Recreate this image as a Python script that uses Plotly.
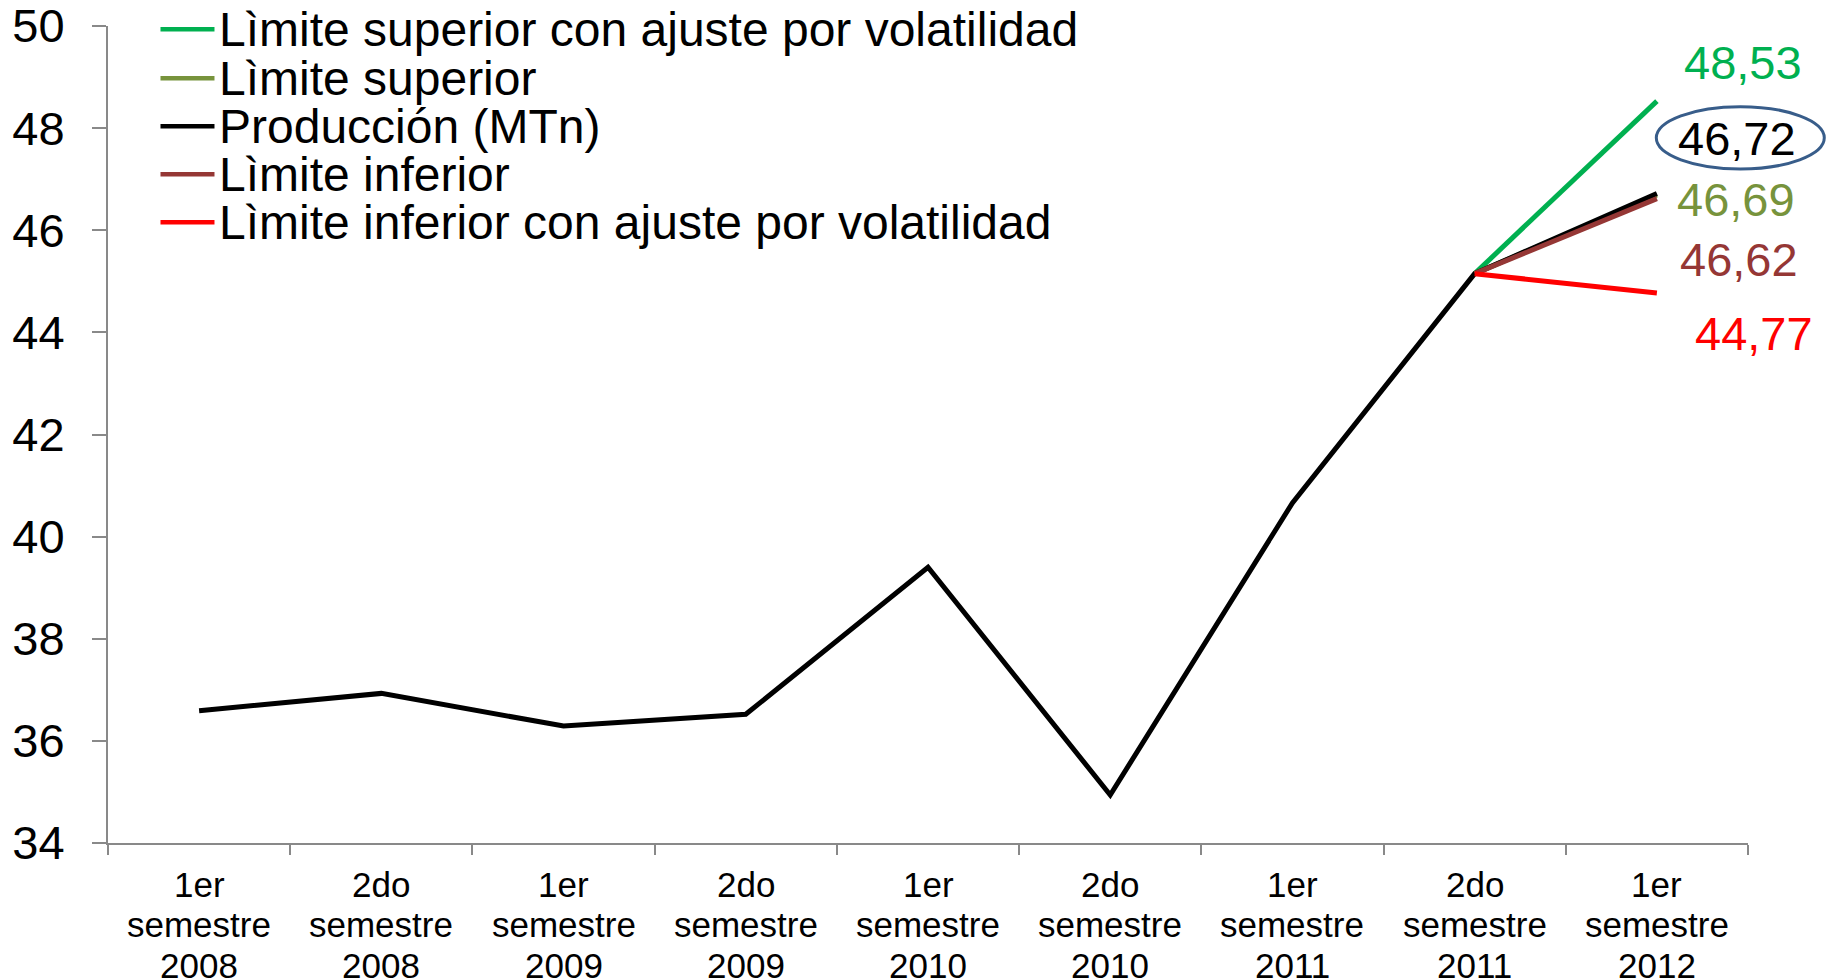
import plotly.graph_objects as go

categories = ["1er<br>semestre<br>2008", "2do<br>semestre<br>2008", "1er<br>semestre<br>2009",
              "2do<br>semestre<br>2009", "1er<br>semestre<br>2010", "2do<br>semestre<br>2010",
              "1er<br>semestre<br>2011", "2do<br>semestre<br>2011", "1er<br>semestre<br>2012"]
produccion = [36.59, 36.93, 36.29, 36.52, 39.40, 34.94, 40.66, 45.15, 46.72]
lim_sup_vol = [None] * 7 + [45.15, 48.53]
lim_sup = [None] * 7 + [45.15, 46.69]
lim_inf = [None] * 7 + [45.15, 46.62]
lim_inf_vol = [None] * 7 + [45.15, 44.77]

series_names = ["Lìmite superior con ajuste por volatilidad", "Lìmite superior",
                "Producción (MTn)", "Lìmite inferior", "Lìmite inferior con ajuste por volatilidad"]
series_values = [lim_sup_vol, lim_sup, produccion, lim_inf, lim_inf_vol]
series_colors = ["#00B050", "#77933C", "#000000", "#953735", "#FF0000"]

FONT = "Arial, 'Liberation Sans', sans-serif"

W, H = 1833, 979
ml, mr, mt, mb = 107.5, 85.3, 25.7, 136
pw, ph = W - ml - mr, H - mt - mb
def px(x):
    return (x - ml) / pw
def py(y):
    return 1 - (y - mt) / ph

fig = go.Figure()
for i in range(5):
    fig.add_trace(go.Scatter(x=categories, y=series_values[i], mode="lines", name=series_names[i],
                             line=dict(color=series_colors[i], width=5), connectgaps=False,
                             showlegend=False))

# value labels at last point
label_shift = {0: (86, 39), 2: (80, 55), 1: (79, -4), 3: (82, -61), 4: (97, -40)}
for i, (xs, ys) in label_shift.items():
    v = series_values[i][-1]
    fig.add_annotation(x=categories[-1], y=v, xref="x", yref="y", text=f"{v:.2f}".replace(".", ","),
                       showarrow=False, xshift=xs, yshift=ys, xanchor="center", yanchor="middle",
                       font=dict(family=FONT, size=47, color=series_colors[i]))

# ellipse around production value
fig.add_shape(type="circle", xref="paper", yref="y", x0=px(1656), x1=px(1824), y0=47.2, y1=48.42,
              line=dict(color="#385D8A", width=3), fillcolor="rgba(0,0,0,0)", layer="above")

# category labels, one line per annotation (Excel-like line spacing)
for c in categories:
    for k, part in enumerate(c.split("<br>")):
        fig.add_annotation(x=c, xref="x", yref="paper", y=0, yshift=-(41 + 40.5 * k),
                           text=part, showarrow=False, xanchor="center", yanchor="middle",
                           font=dict(family=FONT, size=35, color="#000000"))

# manual legend (paper coordinates)
leg_rows = [29, 78, 126, 174, 222]
for i, yr in enumerate(leg_rows):
    fig.add_shape(type="line", xref="paper", yref="paper", x0=px(160), x1=px(214), y0=py(yr), y1=py(yr),
                  line=dict(color=series_colors[i], width=4.5))
    fig.add_annotation(xref="paper", yref="paper", x=px(217), y=py(yr), text=series_names[i],
                       showarrow=False, xanchor="left", yanchor="middle",
                       font=dict(family=FONT, size=48, color="#000000"))

fig.update_layout(
    width=W, height=H,
    margin=dict(l=ml, r=mr, t=mt, b=mb, autoexpand=False),
    paper_bgcolor="white", plot_bgcolor="white",
    showlegend=False,
    font=dict(family=FONT, color="#000000"),
)
fig.update_xaxes(type="category", range=[-0.5, 8.5], showgrid=False, showline=True, linecolor="#898989",
                 linewidth=2, ticks="outside", tickson="boundaries", ticklen=10, tickcolor="#898989",
                 tickwidth=2, showticklabels=False, zeroline=False)
fig.update_yaxes(range=[34, 50], dtick=2, showgrid=False, showline=True, linecolor="#898989", linewidth=2,
                 ticks="outside", ticklen=14, tickcolor="#898989", tickwidth=2,
                 tickfont=dict(family=FONT, size=47, color="#000000"), zeroline=False,
                 ticklabelstandoff=18, ticklabeloverflow="allow")

fig.write_html("out.html", config={"displayModeBar": False},
               post_script="document.body.style.margin='0px';document.body.style.overflow='hidden';")
